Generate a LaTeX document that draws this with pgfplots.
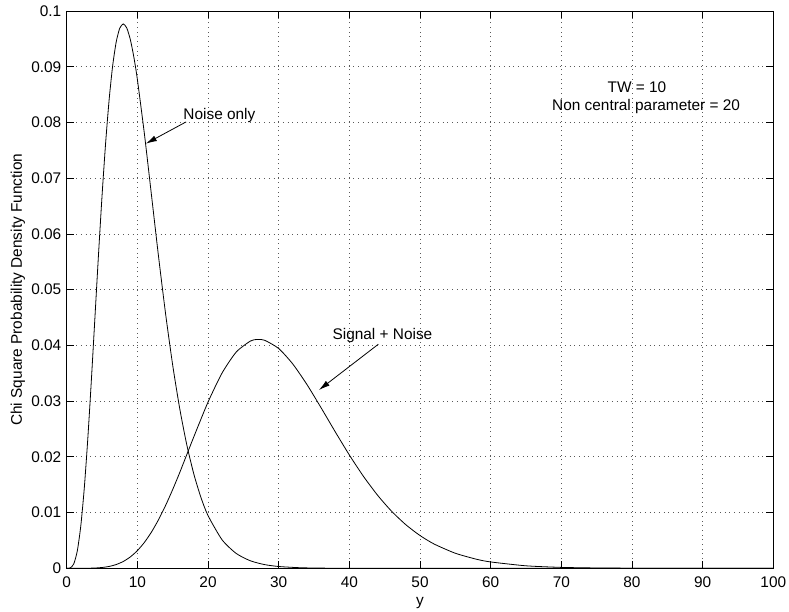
\documentclass[border=0pt]{standalone}
\usepackage{fontspec}
\setmainfont{Liberation Sans}
\usepackage{pgfplots}
\pgfplotsset{compat=1.18}
\usetikzlibrary{arrows.meta}
\tikzset{every node/.append style={font=\fontsize{15.4bp}{18bp}\selectfont}}
\begin{document}
\fontsize{15.4bp}{18bp}\selectfont
\begin{tikzpicture}
\useasboundingbox (0,0) rectangle (789bp,612bp);
\begin{axis}[
  at={(66.7bp,43.7bp)}, anchor=south west,
  width=706.6bp, height=557.3bp, scale only axis,
  xmin=0, xmax=100, ymin=0, ymax=0.1,
  xtick={0,10,20,30,40,50,60,70,80,90,100},
  xticklabels={0,10,20,30,40,50,60,70,80,90,100},
  ytick={0,0.01,0.02,0.03,0.04,0.05,0.06,0.07,0.08,0.09,0.1},
  yticklabels={0,0.01,0.02,0.03,0.04,0.05,0.06,0.07,0.08,0.09,0.1},
  scaled y ticks=false,
  tick align=inside, major tick length=7bp,
  tick style={line width=0.8bp, black},
  axis line style={line width=0.9bp},
  grid=major,
  major grid style={line width=0.7bp, black!65, dash pattern=on 0.7bp off 4bp},
  xticklabel style={anchor=base, yshift=-19.2bp, inner sep=0pt},
  yticklabel style={anchor=east, inner xsep=0pt, xshift=-5.2bp},
  xlabel={y}, ylabel={Chi Square Probability Density Function},
  every axis x label/.style={at={(axis description cs:0.5,0)}, anchor=base, yshift=-36.7bp},
  every axis y label/.style={at={(axis description cs:0,0.5)}, rotate=90, anchor=base, yshift=44.7bp},
]
% Noise only (central chi-square)
\addplot[black, line width=0.8bp, smooth, tension=0.4] coordinates {
(0,0) (0.5,0.0000634) (1,0.000790) (1.5,0.003114) (2,0.007664) (2.5,0.014572)
(3,0.023533) (3.5,0.033953) (4,0.045112) (4.5,0.056276) (5,0.066801) (5.5,0.076169)
(6,0.084015) (6.5,0.090122) (7,0.094406) (7.5,0.096889) (8,0.097684) (8.5,0.096952)
(9,0.094903) (9.5,0.091756) (10,0.087733) (11,0.077910) (12,0.066927) (13,0.055911)
(14,0.045613) (15,0.036458) (16,0.028626) (17,0.022128) (18,0.016869) (19,0.012702)
(20,0.009458) (22,0.005094) (24,0.002654) (26,0.001345) (28,0.000666) (30,0.000323)
(33,0.000105) (36,0.0000333) (40,0.0000069) (50,0.0000001) (100,0)
};
% Signal + Noise (non-central chi-square)
\addplot[black, line width=0.8bp, smooth, tension=0.4] coordinates {
(0,0) (2,0.000002) (3,0.0000131) (4,0.0000502) (5,0.000143) (6,0.000333) (7,0.000673)
(8,0.001222) (9,0.002037) (10,0.003168) (11,0.004654) (12,0.006509) (13,0.008731)
(14,0.011289) (15,0.014134) (16,0.017195) (18,0.023624) (20,0.029820) (22,0.035067)
(24,0.038817) (26,0.040780) (27,0.041071) (28,0.040924) (30,0.039440) (32,0.036655)
(34,0.032978) (36,0.028807) (38,0.024503) (40,0.020333) (42,0.016493) (44,0.013103)
(46,0.010208) (48,0.007816) (50,0.005881) (52,0.004354) (55,0.002701) (58,0.001625)
(60,0.001140) (65,0.000447) (70,0.000164) (75,0.0000570) (80,0.0000188) (90,0.000002)
(100,0.0000002)
};
\node[anchor=base west, inner sep=0pt] at (axis cs:16.5,0.0806) {Noise only};
\draw[-{Latex[length=11bp,width=6bp]}, line width=0.8bp] (axis cs:16.9,0.0801) -- (axis cs:11.2,0.0762);
\node[anchor=base west, inner sep=0pt] at (axis cs:37.6,0.0411) {Signal + Noise};
\draw[-{Latex[length=11bp,width=6bp]}, line width=0.8bp] (axis cs:44.1,0.0402) -- (axis cs:35.7,0.0320);
\node[anchor=base, inner sep=0pt] at (axis cs:80.7,0.0854) {TW = 10};
\node[anchor=base, inner sep=0pt] at (axis cs:82.0,0.0821) {Non central parameter = 20};
\end{axis}
\end{tikzpicture}
\end{document}
